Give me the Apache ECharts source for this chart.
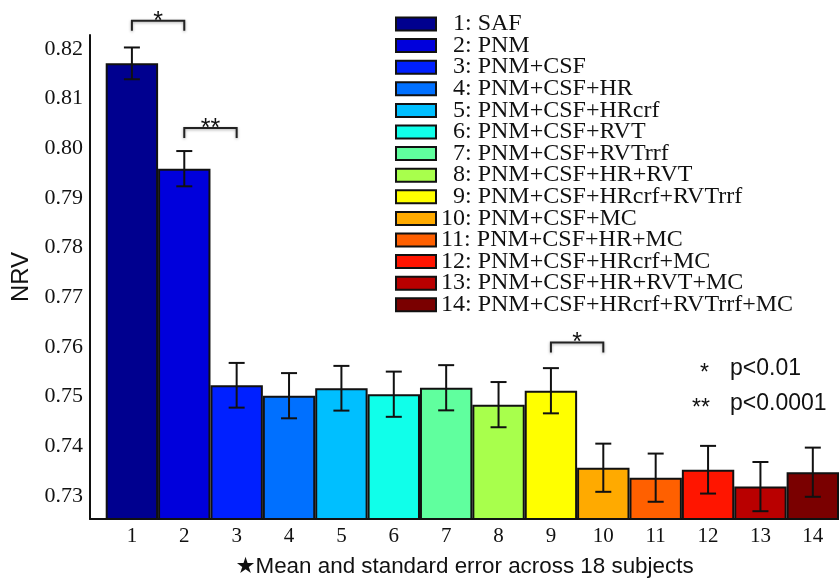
<!DOCTYPE html>
<html>
<head>
<meta charset="utf-8">
<script src="https://cdn.jsdelivr.net/npm/echarts@6/dist/echarts.min.js"></script>
<style>
  html, body { margin: 0; padding: 0; background: #fff; }
  #chart { width: 839px; height: 583px; }
</style>
</head>
<body>
<div id="chart"></div>
<script>
  // 数据
  const positions = [1, 2, 3, 4, 5, 6, 7, 8, 9, 10, 11, 12, 13, 14]
  const methods = [
    'SAF', 'PNM', 'PNM+CSF', 'PNM+CSF+HR', 'PNM+CSF+HRcrf', 'PNM+CSF+RVT',
    'PNM+CSF+RVTrrf', 'PNM+CSF+HR+RVT', 'PNM+CSF+HRcrf+RVTrrf', 'PNM+CSF+MC',
    'PNM+CSF+HR+MC', 'PNM+CSF+HRcrf+MC', 'PNM+CSF+HR+RVT+MC', 'PNM+CSF+HRcrf+RVTrrf+MC'
  ]
  const means = [0.8171, 0.7959, 0.7523, 0.7502, 0.7517, 0.7505, 0.7518, 0.7484, 0.7512, 0.7357, 0.7337, 0.7353, 0.7319, 0.7348]
  const stdErrs = [0.0032, 0.00355, 0.0045, 0.00455, 0.0045, 0.00455, 0.00455, 0.00455, 0.00455, 0.00485, 0.00485, 0.0048, 0.00495, 0.00495]
  const yTicks = [0.73, 0.74, 0.75, 0.76, 0.77, 0.78, 0.79, 0.80, 0.81, 0.82]
  // 显著性标记：起点, 终点, 高度
  const sigFrom = [1, 2, 9]
  const sigTo = [2, 3, 10]
  const sigLevel = [0.8257, 0.8041, 0.7609]
  const sigLabels = ['*', '**', '*']

  const colors = ['#00008f', '#0000dc', '#0020ff', '#0070ff', '#00bfff', '#10ffea', '#60ff9e',
    '#a8ff4c', '#ffff00', '#ffaa00', '#ff6000', '#ff1500', '#b90000', '#7a0000']

  const names = methods.map((m, i) => (i + 1) + ': ' + m)

  const chart = echarts.init(document.getElementById('chart'))

  const serif = 'Liberation Serif'
  const sans = 'Liberation Sans, DejaVu Sans'

  // 每个方法一个柱系列，方便图例
  const barSeries = names.map((name, i) => ({
    name: name,
    type: 'bar',
    data: [[positions[i], means[i]]],
    barWidth: 52.4,
    barGap: '-100%',
    itemStyle: {
      color: colors[i],
      borderColor: '#111',
      borderWidth: 2
    },
    z: 2
  }))

  // 误差线
  const errSeries = {
    type: 'custom',
    name: 'err',
    data: positions.map((p, i) => [p, means[i], stdErrs[i]]),
    z: 5,
    renderItem: (params, api) => {
      const x = api.value(0)
      const m = api.value(1)
      const e = api.value(2)
      const top = api.coord([x, m + e])
      const bot = api.coord([x, m - e])
      const half = 8
      const st = { stroke: '#111', lineWidth: 2 }
      return {
        type: 'group',
        children: [
          { type: 'line', shape: { x1: top[0], y1: top[1], x2: bot[0], y2: bot[1] }, style: st },
          { type: 'line', shape: { x1: top[0] - half, y1: top[1], x2: top[0] + half, y2: top[1] }, style: st },
          { type: 'line', shape: { x1: bot[0] - half, y1: bot[1], x2: bot[0] + half, y2: bot[1] }, style: st }
        ]
      }
    }
  }

  // 显著性括号
  const sigSeries = {
    type: 'custom',
    name: 'sig',
    clip: false,
    data: sigFrom.map((f, i) => [f, sigTo[i], sigLevel[i]]),
    encode: { x: [0, 1], y: 2 },
    z: 6,
    renderItem: (params, api) => {
      const p1 = api.coord([api.value(0), api.value(2)])
      const p2 = api.coord([api.value(1), api.value(2)])
      const drop = 10
      return {
        type: 'group',
        children: [
          {
            type: 'polyline',
            shape: { points: [[p1[0], p1[1] + drop], [p1[0], p1[1]], [p2[0], p2[1]], [p2[0], p2[1] + drop]] },
            style: { stroke: '#222', lineWidth: 2, fill: null, shadowBlur: 3, shadowColor: 'rgba(0,0,0,0.35)', shadowOffsetY: 1 }
          },
          {
            type: 'text',
            x: (p1[0] + p2[0]) / 2,
            y: p1[1] + 1,
            style: {
              text: sigLabels[params.dataIndex],
              font: '25px ' + sans,
              fill: '#111',
              align: 'center',
              verticalAlign: 'middle'
            }
          }
        ]
      }
    }
  }

  const option = {
    backgroundColor: '#fff',
    animation: false,
    grid: { left: 90, right: 0, top: 35, bottom: 63 },
    xAxis: {
      type: 'value',
      min: 0.2,
      max: 14.5,
      name: '\u2605Mean and standard error across 18 subjects',
      nameLocation: 'middle',
      nameGap: 37,
      nameTextStyle: { fontFamily: sans, fontSize: 22.4, color: '#111' },
      axisLine: { show: true, lineStyle: { color: '#111', width: 2 } },
      axisTick: { show: false },
      splitLine: { show: false },
      axisLabel: {
        customValues: positions,
        margin: 7,
        fontFamily: serif,
        fontSize: 21,
        color: '#111'
      }
    },
    yAxis: {
      type: 'value',
      min: 0.72538,
      max: 0.82281,
      name: 'NRV',
      nameLocation: 'middle',
      nameGap: 55,
      nameRotate: 90,
      nameTextStyle: { fontFamily: sans, fontSize: 24, color: '#111' },
      axisLine: { show: true, lineStyle: { color: '#111', width: 2 } },
      axisTick: { show: false },
      splitLine: { show: false },
      axisLabel: {
        customValues: yTicks,
        margin: 7,
        fontFamily: serif,
        fontSize: 22,
        color: '#111',
        formatter: (v) => v.toFixed(2)
      }
    },
    legend: {
      data: names,
      orient: 'vertical',
      left: 395,
      top: 12,
      padding: 0,
      itemGap: -2.4,
      itemWidth: 40,
      itemHeight: 13,
      icon: 'rect',
      itemStyle: { borderColor: '#111', borderWidth: 2 },
      textStyle: {
        color: '#111',
        fontFamily: serif,
        fontSize: 24,
        rich: {
          a: { fontFamily: serif, fontSize: 24, color: '#111', padding: [0, 0, 0, 12] },
          b: { fontFamily: serif, fontSize: 24, color: '#111' }
        }
      },
      formatter: (name) => {
        const num = parseInt(name, 10)
        return (num < 10 ? '{a|' : '{b|') + name + '}'
      }
    },
    graphic: [
      { type: 'text', left: 700, top: 362, style: { text: '*', font: '23px ' + sans, fill: '#111' } },
      { type: 'text', left: 730, top: 357, style: { text: 'p<0.01', font: '23px ' + sans, fill: '#111' } },
      { type: 'text', left: 692, top: 397, style: { text: '**', font: '23px ' + sans, fill: '#111' } },
      { type: 'text', left: 730, top: 392, style: { text: 'p<0.0001', font: '23px ' + sans, fill: '#111' } }
    ],
    series: [...barSeries, errSeries, sigSeries]
  }

  chart.setOption(option)
</script>
</body>
</html>
